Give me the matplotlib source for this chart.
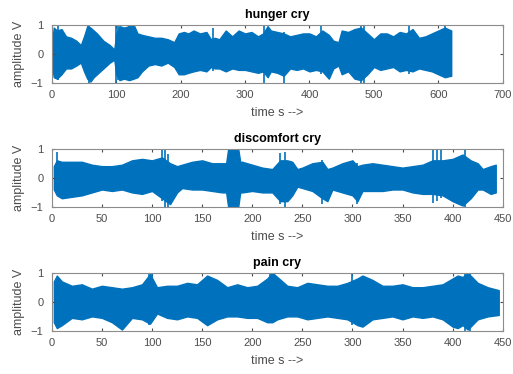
import matplotlib.pyplot as plt

# envelopes (time s, upper, lower)
hunger_t = [0, 3, 8, 15, 22, 30, 38, 45, 50, 55, 60, 65, 70, 80, 90, 97, 100, 105, 112, 120, 127,
            133, 140, 150, 160, 170, 180, 190, 197, 205, 212, 220, 230, 240, 247, 253, 260, 270, 280,
            290, 300, 310, 320, 328, 335, 340, 350, 360, 370, 380, 390, 400, 410, 420, 430, 437, 445,
            450, 460, 470, 480, 490, 500, 510, 520, 530, 540, 550, 560, 570, 580, 590, 600, 610, 620]
hunger_hi = [0.3, 0.9, 0.8, 0.85, 0.6, 0.55, 0.45, 0.3, 0.6, 0.95, 0.9, 0.8, 0.7, 0.45, 0.3, 0.15, 0.7,
             0.95, 0.9, 0.95, 1.0, 0.7, 0.65, 0.6, 0.55, 0.55, 0.5, 0.4, 0.7, 0.75, 0.7, 0.8, 0.7, 0.75,
             0.5, 0.55, 0.5, 0.8, 0.6, 0.8, 0.7, 0.75, 0.6, 0.7, 0.95, 0.8, 0.75, 0.7, 0.6, 0.65, 0.7,
             0.7, 0.6, 0.8, 0.65, 0.45, 0.4, 0.8, 0.75, 0.85, 0.9, 0.7, 0.5, 0.7, 0.7, 0.6, 0.75, 0.7,
             0.85, 0.55, 0.6, 0.7, 0.8, 0.9, 0.8]
hunger_lo = [-0.3, -0.8, -0.85, -0.7, -0.5, -0.5, -0.4, -0.3, -0.6, -0.85, -0.95, -0.8, -0.7, -0.5,
             -0.3, -0.2, -0.7, -0.9, -0.85, -0.9, -0.85, -0.8, -0.6, -0.4, -0.35, -0.4, -0.3, -0.45,
             -0.7, -0.7, -0.65, -0.6, -0.55, -0.6, -0.45, -0.5, -0.5, -0.6, -0.5, -0.55, -0.55, -0.6,
             -0.65, -0.6, -0.8, -0.6, -0.65, -0.75, -0.5, -0.55, -0.5, -0.6, -0.55, -0.6, -0.85, -0.5,
             -0.4, -0.7, -0.6, -0.85, -0.9, -0.7, -0.45, -0.55, -0.5, -0.45, -0.6, -0.55, -0.6, -0.5,
             -0.55, -0.6, -0.7, -0.8, -0.75]
hunger_spk_t = [10, 57, 100, 103, 120, 125, 250, 330, 360, 418, 480, 484, 555, 610]
hunger_spk_hi = [1.0, 1.0, 1.0, 1.0, 1.0, 1.0, 0.9, 1.0, 0.75, 1.0, 1.0, 1.0, 1.0, 1.0]
hunger_spk_lo = [-0.9, -1.0, -1.0, -0.9, -0.9, -0.9, -0.6, -1.0, -1.0, -0.7, -1.0, -1.0, -0.7, -0.8]

disc_t = [2, 5, 10, 20, 30, 40, 50, 60, 70, 80, 90, 100, 110, 118, 125, 130, 140, 150, 160, 170,
          174, 176, 186, 188, 190, 200, 210, 220, 228, 235, 240, 245, 250, 260, 270, 275, 280, 290,
          300, 305, 310, 320, 330, 340, 350, 360, 370, 380, 390, 400, 410, 418, 425, 430, 438, 443]
disc_hi = [0.4, 0.6, 0.55, 0.55, 0.55, 0.45, 0.4, 0.4, 0.45, 0.6, 0.65, 0.6, 0.7, 0.5, 0.4, 0.45,
           0.55, 0.6, 0.5, 0.5, 0.5, 1.0, 1.0, 0.55, 0.55, 0.45, 0.35, 0.3, 0.6, 0.6, 0.55, 0.3, 0.35,
           0.5, 0.55, 0.3, 0.35, 0.5, 0.6, 0.4, 0.45, 0.5, 0.45, 0.4, 0.35, 0.4, 0.45, 0.6, 0.6, 0.65,
           0.8, 0.6, 0.5, 0.3, 0.4, 0.45]
disc_lo = [-0.4, -0.6, -0.7, -0.65, -0.6, -0.5, -0.4, -0.45, -0.4, -0.5, -0.55, -0.45, -0.7, -0.9,
           -0.5, -0.35, -0.4, -0.4, -0.45, -0.5, -0.5, -1.0, -1.0, -0.5, -0.5, -0.45, -0.5, -0.5,
           -0.8, -0.8, -0.6, -0.3, -0.35, -0.45, -0.7, -0.8, -0.4, -0.5, -0.6, -0.8, -0.45, -0.45,
           -0.45, -0.4, -0.4, -0.5, -0.55, -0.55, -0.6, -0.8, -0.95, -0.7, -0.4, -0.4, -0.55, -0.5]
disc_spk_t = [5, 110, 113, 116, 228, 233, 270, 305, 380, 384, 388, 412]
disc_spk_hi = [0.9, 1.0, 1.0, 0.8, 0.85, 0.9, 0.6, 0.5, 1.0, 1.0, 0.95, 1.0]
disc_spk_lo = [-0.6, -0.8, -1.0, -1.0, -0.9, -1.0, -0.9, -0.9, -0.85, -0.8, -0.7, -1.0]

pain_t = [2, 5, 10, 20, 30, 40, 50, 60, 70, 80, 90, 98, 105, 115, 125, 135, 145, 155, 165, 175,
          185, 195, 205, 215, 220, 225, 235, 245, 255, 265, 275, 285, 295, 305, 310, 320, 330, 340,
          350, 360, 370, 380, 390, 400, 405, 410, 415, 425, 435, 446]
pain_hi = [0.7, 0.9, 0.7, 0.55, 0.6, 0.45, 0.55, 0.5, 0.45, 0.5, 0.6, 0.95, 0.5, 0.55, 0.55, 0.65,
           0.6, 0.9, 0.75, 0.5, 0.6, 0.5, 0.55, 0.8, 1.0, 0.85, 0.55, 0.5, 0.65, 0.6, 0.55, 0.55,
           0.65, 0.8, 0.9, 0.75, 0.55, 0.55, 0.6, 0.5, 0.5, 0.55, 0.6, 0.8, 0.9, 0.85, 1.0, 0.65, 0.5,
           0.4]
pain_lo = [-0.7, -0.9, -0.8, -0.55, -0.6, -0.5, -0.55, -0.7, -0.95, -0.55, -0.6, -0.75, -0.4,
           -0.55, -0.6, -0.5, -0.55, -0.8, -0.6, -0.5, -0.5, -0.55, -0.55, -0.7, -0.7, -0.6, -0.5,
           -0.5, -0.6, -0.55, -0.5, -0.55, -0.6, -0.8, -0.85, -0.6, -0.55, -0.5, -0.6, -0.5, -0.55,
           -0.5, -0.6, -0.85, -0.9, -0.8, -0.95, -0.6, -0.5, -0.45]
pain_spk_t = [97, 100, 218, 222, 300, 412, 417]
pain_spk_hi = [1.0, 1.0, 1.0, 1.0, 0.95, 1.0, 1.0]
pain_spk_lo = [-0.8, -0.7, -0.7, -0.7, -0.8, -1.0, -1.0]

panels = [
    ("hunger cry", hunger_t, hunger_hi, hunger_lo, hunger_spk_t, hunger_spk_hi, hunger_spk_lo, 700, 100),
    ("discomfort cry", disc_t, disc_hi, disc_lo, disc_spk_t, disc_spk_hi, disc_spk_lo, 450, 50),
    ("pain cry", pain_t, pain_hi, pain_lo, pain_spk_t, pain_spk_hi, pain_spk_lo, 450, 50),
]

blue = "#0072BD"
grey = "#4d4d4d"
plt.rcParams["font.family"] = ["Liberation Sans", "DejaVu Sans"]

fig = plt.figure(figsize=(5.13, 3.74), dpi=100)
bottoms = [0.778, 0.4465, 0.115]
for (title, t, hi, lo, st, sh, sl, xmax, step), b in zip(panels, bottoms):
    ax = fig.add_axes([0.101, b, 0.879, 0.156])
    ax.fill_between(t, lo, hi, color=blue, linewidth=1.0, edgecolor=blue)
    ax.vlines(st, sl, sh, color=blue, linewidth=1.2)
    ax.set_xlim(0, xmax)
    ax.set_ylim(-1, 1)
    ax.set_xticks(range(0, xmax + 1, step))
    ax.set_yticks([-1, 0, 1])
    ax.tick_params(direction="in", length=2.5, labelsize=8, colors=grey,
                   top=True, right=True, pad=5)
    ax.tick_params(axis="y", pad=6)
    for s in ax.spines.values():
        s.set_color("#8c8c8c")
        s.set_linewidth(0.8)
    ax.set_title(title, fontsize=9, fontweight="bold", pad=5)
    ax.set_xlabel("time s -->", fontsize=9, color=grey, labelpad=5)
    ax.set_ylabel("amplitude V", fontsize=9, color=grey, labelpad=4)

fig.savefig("out.png", dpi=100)
